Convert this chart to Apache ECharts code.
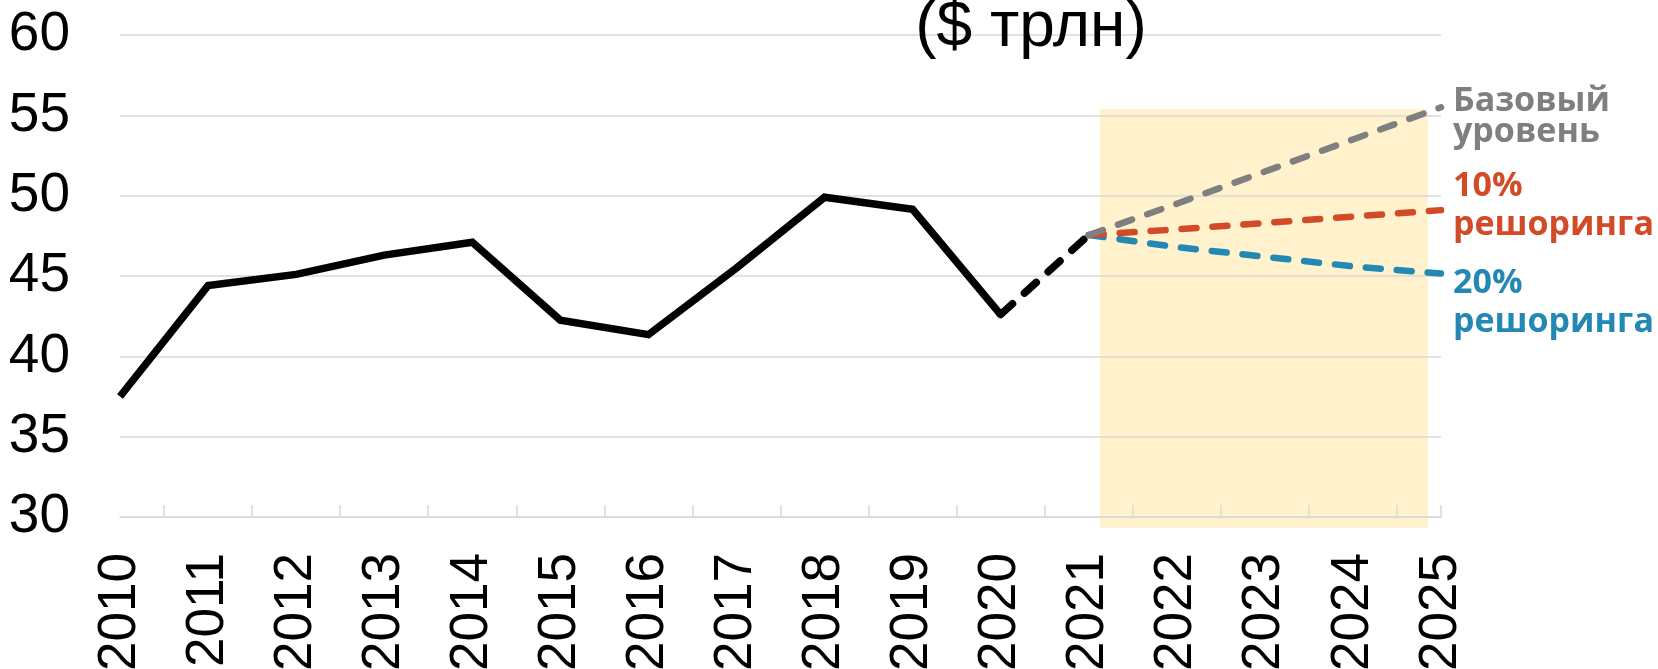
<!DOCTYPE html>
<html>
<head>
<meta charset="utf-8">
<script src="https://cdn.jsdelivr.net/npm/echarts@6/dist/echarts.min.js"></script>
<style>
html,body{margin:0;padding:0;background:#fff}
#chart{width:1658px;height:669px}
</style>
</head>
<body>
<div id="chart"></div>
<script>
// years on the x axis
var years = [2010, 2011, 2012, 2013, 2014, 2015, 2016, 2017, 2018, 2019, 2020, 2021, 2022, 2023, 2024, 2025];
var yTicks = [30, 35, 40, 45, 50, 55, 60];

// actual values, $ trillion
var actualYears = [2010, 2011, 2012, 2013, 2014, 2015, 2016, 2017, 2018, 2019, 2020];
var actual = [37.5, 44.4, 45.1, 46.3, 47.1, 42.25, 41.35, 45.5, 49.9, 49.15, 42.6];

// 2021 estimate (dashed)
var estYears = [2020, 2021];
var estimate = [42.6, 47.55];

// forecasts
var forecastYears = [2021, 2022, 2023, 2024, 2025];
var baseLevel = [47.55, 49.5, 51.5, 53.5, 55.5];
var reshore10 = [47.55, 47.9, 48.3, 48.7, 49.1];
var reshore20 = [47.55, 46.8, 46.2, 45.6, 45.15];

// shaded forecast band (data units)
var bandX = [2021.125, 2024.85];
var bandY = [29.3, 55.4];

var title = '($ трлн)';
var baseName = 'Базовый\nуровень';
var r10Name = '10%\nрешоринга';
var r20Name = '20%\nрешоринга';

var GREY = '#7f7f7f', RED = '#d24a26', BLUE = '#2389b4';

function pairs(xs, ys) {
    return xs.map(function (x, i) { return [x, ys[i]]; });
}

// ticks sit half way between years, plus one at the end
var tickVals = years.slice(0, -1).map(function (y) { return y + 0.5; });
tickVals.push(years[years.length - 1]);

function forecastSeries(name, vals, color, text, lh, dy) {
    return {
        name: name,
        type: 'line',
        data: pairs(forecastYears, vals),
        symbol: 'none',
        lineStyle: { color: color, width: 6.5, type: [15, 16], cap: 'round' },
        endLabel: {
            show: true,
            formatter: text,
            color: color,
            fontFamily: 'Open Sans',
            fontWeight: 'bold',
            fontSize: 34,
            lineHeight: lh,
            distance: 12,
            offset: [0, dy]
        },
        z: 3
    };
}

var chart = echarts.init(document.getElementById('chart'));
chart.setOption({
    animation: false,
    title: {
        text: title,
        left: 1026,
        top: -9,
        textAlign: 'center',
        textStyle: { fontFamily: 'Liberation Sans', fontWeight: 'normal', fontSize: 64, color: '#000' }
    },
    grid: { left: 120, right: 217, top: 35, bottom: 152, outerBoundsMode: 'none', containLabel: false },
    xAxis: {
        type: 'value',
        min: years[0],
        max: years[years.length - 1],
        axisLine: { lineStyle: { color: '#d9d9d9', width: 1.5 } },
        axisTick: { show: true, inside: true, length: 12, customValues: tickVals, lineStyle: { color: '#d9d9d9', width: 1.5 } },
        axisLabel: {
            customValues: years,
            formatter: function (v) { return String(v); },
            rotate: 90,
            margin: 36,
            fontFamily: 'Liberation Sans',
            fontSize: 53,
            color: '#000'
        },
        splitLine: { show: false }
    },
    yAxis: {
        type: 'value',
        min: yTicks[0],
        max: yTicks[yTicks.length - 1],
        interval: 5,
        axisLine: { show: false },
        axisTick: { show: false },
        axisLabel: { margin: 50, fontFamily: 'Liberation Sans', fontSize: 55, color: '#000' },
        splitLine: { lineStyle: { color: '#d9d9d9', width: 1.5 } }
    },
    series: [
        {
            type: 'custom',
            silent: true,
            z: -1,
            clip: false,
            encode: { x: [0, 1], y: [2, 3] },
            data: [[bandX[0], bandX[1], bandY[0], bandY[1]]],
            renderItem: function (params, api) {
                var p0 = api.coord([api.value(0), api.value(3)]);
                var p1 = api.coord([api.value(1), api.value(2)]);
                return {
                    type: 'rect',
                    shape: { x: p0[0], y: p0[1], width: p1[0] - p0[0], height: p1[1] - p0[1] },
                    style: { fill: '#fff2cc' }
                };
            }
        },
        {
            name: 'actual',
            type: 'line',
            data: pairs(actualYears, actual),
            symbol: 'none',
            lineStyle: { color: '#000', width: 7.5, join: 'miter' },
            z: 2
        },
        {
            name: 'estimate',
            type: 'line',
            data: pairs(estYears, estimate),
            symbol: 'none',
            lineStyle: { color: '#000', width: 7.5, type: [16, 16], cap: 'round' },
            z: 2
        },
        forecastSeries('r20', reshore20, BLUE, r20Name, 39, 29),
        forecastSeries('r10', reshore10, RED, r10Name, 39, -4),
        forecastSeries('base', baseLevel, GREY, baseName, 31, 10)
    ]
});
</script>
</body>
</html>
